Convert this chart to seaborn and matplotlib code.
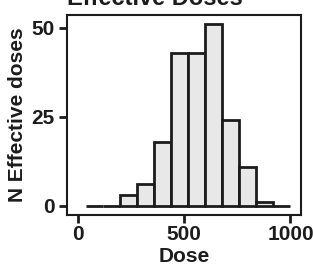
import matplotlib
matplotlib.use("Agg")
import matplotlib.pyplot as plt
import seaborn as sns
import numpy as np

bin_edges = [40, 120, 200, 280, 360, 440, 520, 600, 680, 760, 840, 920, 1000]
counts = [0, 0, 3, 6, 18, 43, 43, 51, 24, 11, 1, 0]
x_ticks = [0, 500, 1000]
y_ticks = [0, 25, 50]
title = "Effective Doses"
x_label = "Dose"
y_label = "N Effective doses"

sns.set_style("ticks")
plt.rcParams['font.family'] = ['Liberation Sans', 'DejaVu Sans']
plt.rcParams['font.weight'] = 'bold'

centers = [(a + b) / 2 for a, b in zip(bin_edges[:-1], bin_edges[1:])]

fig = plt.figure(figsize=(3.13, 2.66), dpi=100)
ax = fig.add_axes([0.214, 0.192, 0.748, 0.752])
sns.histplot(x=centers, weights=counts, bins=bin_edges, ax=ax,
             color="#e8e8e8", edgecolor="#1c1c1c", linewidth=2, alpha=1)

ax.set_xlim(-50, 1050)
ax.set_ylim(-2.55, 53.55)
ax.set_xticks(x_ticks)
ax.set_yticks(y_ticks)
ax.set_xlabel(x_label, fontsize=15, fontweight='bold', color='#1c1c1c', labelpad=2.2)
ax.set_ylabel(y_label, fontsize=15, fontweight='bold', color='#1c1c1c', labelpad=3)
ax.set_title(title, fontsize=17, fontweight='bold', color='#1c1c1c', pad=7, loc='left')
ax.tick_params(axis='both', labelsize=15, colors='#1c1c1c', length=6, width=2)
ax.tick_params(axis='y', pad=3)
ax.tick_params(axis='x', pad=1.5)
for lab in ax.get_xticklabels() + ax.get_yticklabels():
    lab.set_fontweight('bold')
for s in ax.spines.values():
    s.set_visible(True)
    s.set_linewidth(1.5)
    s.set_color('#1c1c1c')

fig.savefig("out.png", dpi=100)
